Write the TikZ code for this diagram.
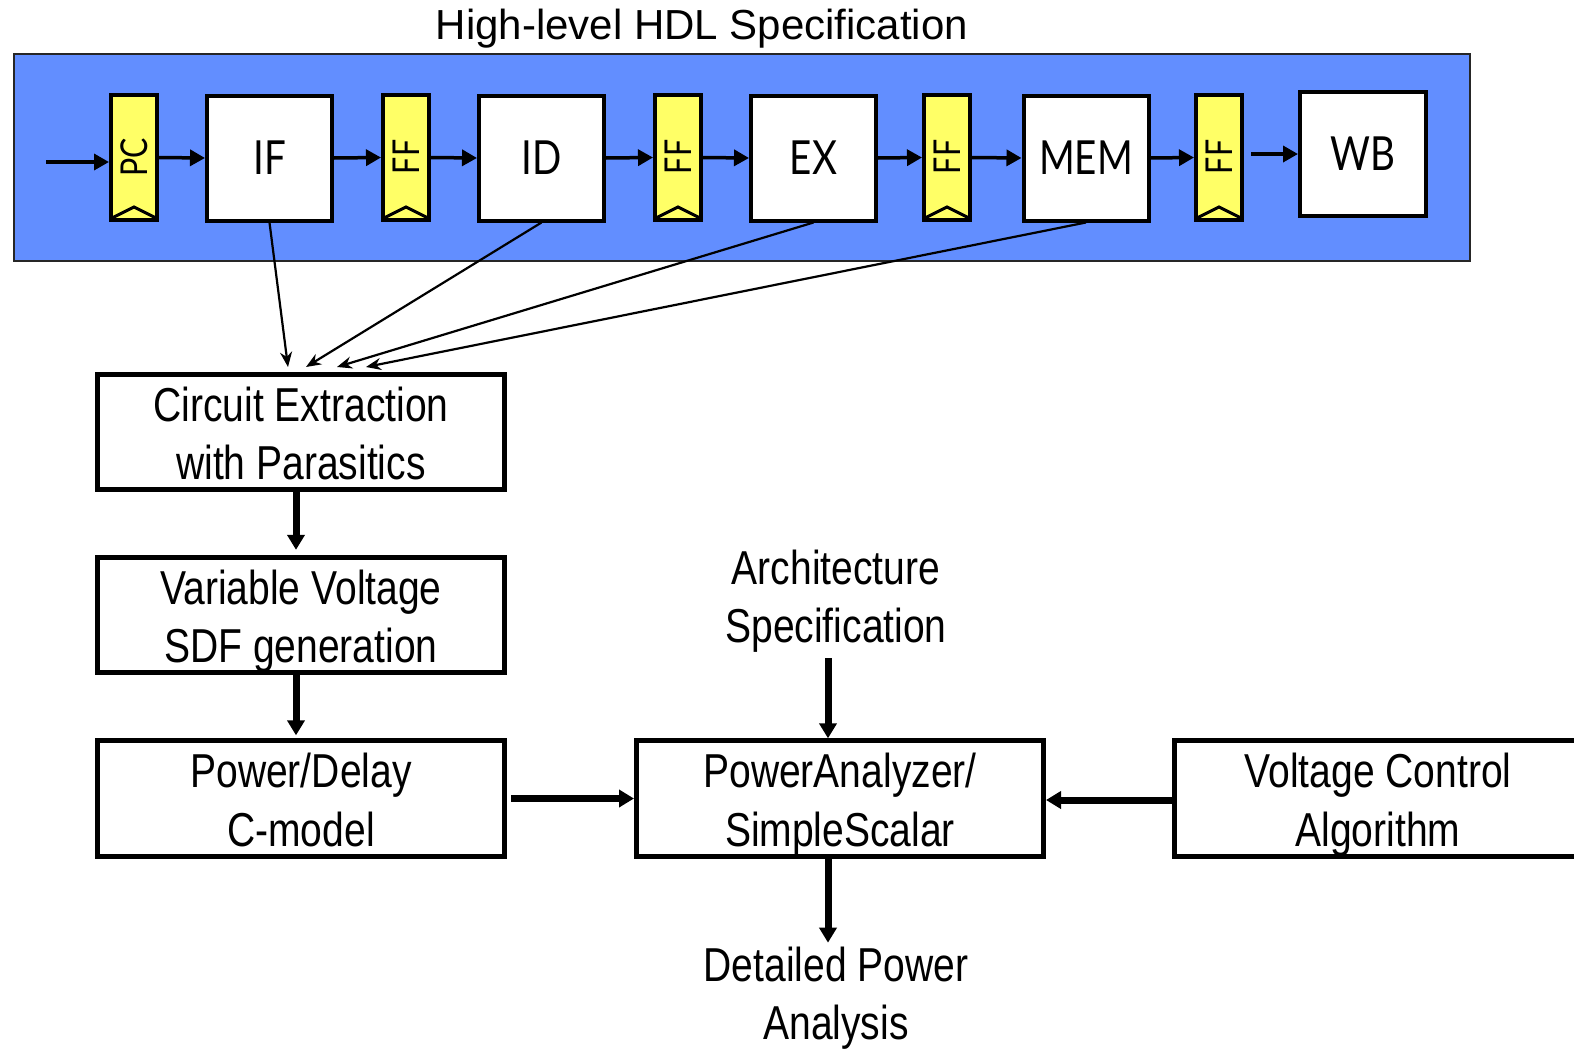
\documentclass[tikz,border=0pt]{standalone}
\usepackage{fontspec}
\setmainfont{Liberation Sans}
\newfontfamily\narrowsans{Liberation Sans}[FakeStretch=0.82]
\newfontfamily\stagesans{Lato}[FakeStretch=0.82]
\usetikzlibrary{arrows.meta,calc}
\definecolor{pipeblue}{RGB}{98,142,255}
\definecolor{regyellow}{RGB}{255,255,102}
% line strut: ascent and descent of the narrow face
\newcommand\lstrut{\rule[-0.212em]{0pt}{\dimexpr 1.117em+4pt\relax}}

\begin{document}
\begin{tikzpicture}[x=1pt,y=-1pt,
  stagebox/.style={draw,line width=4pt,fill=white,minimum width=125pt,
    minimum height=125pt,inner sep=0pt,font=\stagesans\fontsize{47}{50}\selectfont},
  regbox/.style={draw,line width=4pt,fill=regyellow,minimum width=46pt,
    minimum height=125pt,inner sep=0pt},
  reglabel/.style={rotate=90,inner sep=0pt,font=\stagesans\fontsize{37}{40}\selectfont},
  flowbox/.style={draw,line width=5pt,fill=white,minimum width=407pt,
    minimum height=111pt,inner sep=0pt,align=center,
    font=\narrowsans\fontsize{47.6}{57}\selectfont},
  plaintext/.style={align=center,inner sep=0pt,
    font=\narrowsans\fontsize{47.6}{57}\selectfont},
  pipearrow/.style={line width=3.5pt,-{Triangle[length=15pt,width=16pt]}},
  taparrow/.style={line width=2.2pt,-{Stealth[length=15pt,width=12pt]}},
  flowarrow/.style={line width=7pt,-{Triangle[length=15pt,width=17pt]}},
]
\useasboundingbox (0,0) rectangle (1574,1049);
\clip (0,0) rectangle (1574,1049);
\fill[white] (0,0) rectangle (1574,1049);

% title and pipeline frame
\node[font=\fontsize{42}{46}\selectfont,inner sep=0pt] (title) at (702,29) {High-level HDL Specification};
\draw[line width=2pt,draw=black!85,fill=pipeblue] (14,54) rectangle (1470,261);

% pipeline stages
\node[stagebox] (if)  at (269.5,158) {IF};
\node[stagebox] (id)  at (541.5,158) {ID};
\node[stagebox] (ex)  at (813.5,158) {EX};
\node[stagebox] (mem) at (1086,158)  {MEM};
\node[stagebox,minimum width=126pt,minimum height=124pt] (wb) at (1363,154) {WB};

% pipeline registers with clock chevrons
\foreach \name/\x/\txt in {pc/134/PC, ffa/406/FF, ffb/678/FF, ffc/947/FF, ffd/1219/FF}{
  \node[regbox] (\name) at (\x,157.5) {};
  \draw[line width=3pt,line join=miter]
    ($(\name.south west)+(3,-4)$) -- ($(\name.south)+(0,-15)$) -- ($(\name.south east)+(-3,-4)$);
  \node[reglabel] (\name-t) at (\x,157) {\txt};
}

% pipeline data flow
\coordinate (pcin) at (46,162);
\draw[pipearrow] (pcin) -- (pcin -| pc.west);
\draw[pipearrow] (pc.east) -- (if.west);
\draw[pipearrow] (if.east) -- (ffa.west);
\draw[pipearrow] (ffa.east) -- (id.west);
\draw[pipearrow] (id.east) -- (ffb.west);
\draw[pipearrow] (ffb.east) -- (ex.west);
\draw[pipearrow] (ex.east) -- (ffc.west);
\draw[pipearrow] (ffc.east) -- (mem.west);
\draw[pipearrow] (mem.east) -- (ffd.west);
\draw[pipearrow,shorten <=7pt] (ffd.east |- wb.west) -- (wb.west);

% tool flow boxes
\node[flowbox] (ce) at (301,432)   {\lstrut Circuit Extraction\\\lstrut with Parasitics};
\node[flowbox] (vv) at (301,615)   {\lstrut Variable Voltage\\\lstrut SDF generation};
\node[flowbox] (pd) at (301,798.5) {\lstrut Power/Delay\\\lstrut C-model};
\node[flowbox] (pa) at (840,798.5) {\lstrut PowerAnalyzer/\\\lstrut SimpleScalar};
\node[flowbox] (vc) at (1378,798.5) {\lstrut Voltage Control\\\lstrut Algorithm};
\node[plaintext] (arch) at (836,595) {\lstrut Architecture\\\lstrut Specification};
\node[plaintext] (dpa)  at (836,992) {\lstrut Detailed Power\\\lstrut Analysis};

% stages feeding circuit extraction
\coordinate (tapa) at (288,367);
\coordinate (tapb) at (306,367);
\coordinate (tapc) at (337,367);
\coordinate (tapd) at (366,367);
\draw[taparrow] (if.south) -- (tapa);
\draw[taparrow] (id.south) -- (tapb);
\draw[taparrow] (ex.south) -- (tapc);
\draw[taparrow] (mem.south) -- (tapd);

% tool flow connectors
\draw[flowarrow] ($(ce.south)+(-5,0)$) -- ($(vv.north)+(-5,-5)$);
\draw[flowarrow] ($(vv.south)+(-5,0)$) -- ($(pd.north)+(-5,-3)$);
\draw[flowarrow,shorten <=4pt] (pd.east) -- (pa.west);
\draw[flowarrow] ($(vc.west)+(0,1.5)$) -- ($(pa.east)+(0,1.5)$);
\draw[flowarrow] ($(pa.north)+(-12,-80)$) -- ($(pa.north)+(-12,0)$);
\draw[flowarrow] ($(pa.south)+(-12,0)$) -- ($(pa.south)+(-12,84)$);
\end{tikzpicture}
\end{document}
